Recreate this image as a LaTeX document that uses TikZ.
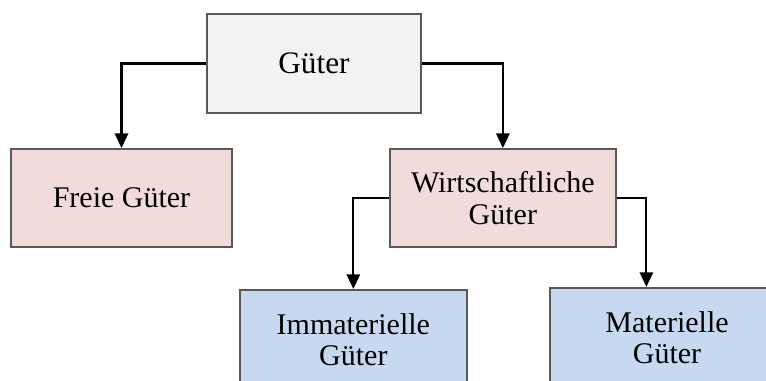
\documentclass[tikz,border=0pt]{standalone}
\usepackage{fontspec}
\setmainfont{Liberation Serif}
\usetikzlibrary{positioning,arrows.meta}
\definecolor{rootgray}{HTML}{F2F2F2}
\definecolor{pinkfill}{HTML}{F2DCDB}
\definecolor{bluefill}{HTML}{C6D9F1}
\tikzset{block/.style={draw=black!65,line width=1.4pt,align=center,inner sep=0pt,
           font=\fontsize{22.5}{23.5}\selectfont},
         rootbox/.style={block,fill=rootgray,minimum width=160.5pt,minimum height=74.25pt,
           font=\fontsize{23.5}{24}\selectfont},
         pinkbox/.style={block,fill=pinkfill,minimum height=73.5pt},
         bluebox/.style={block,fill=bluefill,minimum width=170.5pt,minimum height=75pt}
}
\tikzstyle{arrow} = [line width=1.6pt,-{Triangle[width=10pt,length=11pt]}]

\begin{document}
\begin{tikzpicture}[x=0.75pt,y=-0.75pt]
\useasboundingbox (0,0) rectangle (766,381);

\node[rootbox] (gueter) at (314,63.5) {Güter};
\node[pinkbox,minimum width=165.75pt] (freie) at (121.5,198) {Freie Güter};
\node[pinkbox,minimum width=169.5pt,right=117pt of freie] (wirt) {Wirtschaftliche\\Güter};
\node[bluebox,below left=30.75pt and -59.25pt of wirt] (immat) {Immaterielle\\Güter};
\node[bluebox,minimum width=176pt,below right=29.25pt and -51pt of wirt] (mat) {Materielle\\Güter};
\coordinate[left=15.5pt of mat.north] (matin);
\draw[arrow] (gueter.west) -| (freie.north);
\draw[arrow] (gueter.east) -| (wirt.north);
\draw[arrow] (wirt.west) -| (immat.north);
\draw[arrow] (wirt.east) -| (matin);

\end{tikzpicture}
\end{document}
